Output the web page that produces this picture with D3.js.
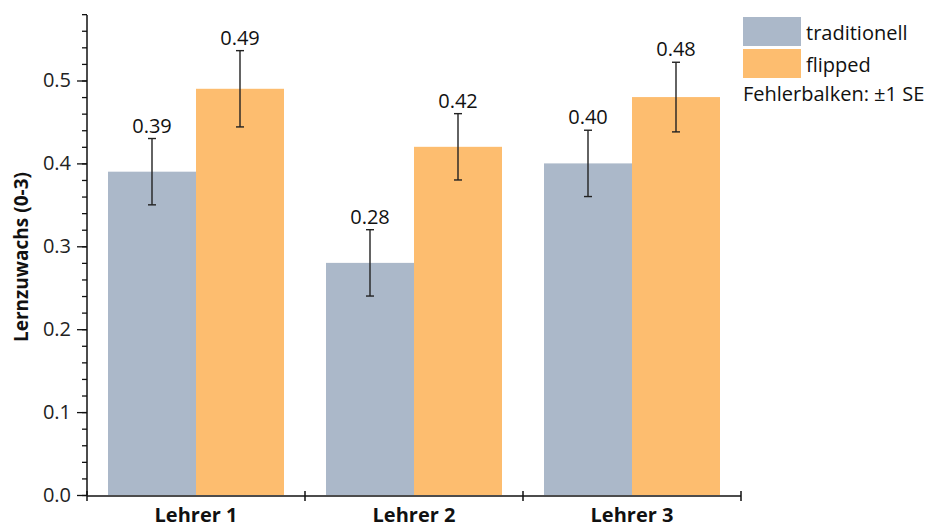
<!DOCTYPE html>
<html>
<head>
<meta charset="utf-8">
<script src="https://cdn.jsdelivr.net/npm/d3@7"></script>
<style>
  html, body { margin: 0; padding: 0; background: #fff; }
  svg { display: block; font-family: "Open Sans", "Noto Sans", sans-serif; }
</style>
</head>
<body>
<svg id="chart" width="934" height="525"></svg>
<script>
// Lernzuwachs nach Lehrkraft und Unterrichtsform
const teachers = ["Lehrer 1", "Lehrer 2", "Lehrer 3"];
const groups = ["traditionell", "flipped"];
const traditionalMeans = [0.39, 0.28, 0.40];
const flippedMeans = [0.49, 0.42, 0.48];
const traditionalSE = [0.040, 0.040, 0.040];
const flippedSE = [0.046, 0.040, 0.042];
const valueLabels = [["0.39", "0.49"], ["0.28", "0.42"], ["0.40", "0.48"]];
const yTicks = [0.0, 0.1, 0.2, 0.3, 0.4, 0.5];
const colors = { traditionell: "#abb8c9", flipped: "#fdbd6f" };

const rows = teachers.map((t, i) => ({
  teacher: t,
  bars: [
    { group: "traditionell", mean: traditionalMeans[i], se: traditionalSE[i], label: valueLabels[i][0] },
    { group: "flipped", mean: flippedMeans[i], se: flippedSE[i], label: valueLabels[i][1] }
  ]
}));

const svg = d3.select("#chart");
const plotLeft = 87, plotRight = 741, plotTop = 15, plotBottom = 495;

const x0 = d3.scaleBand().domain(teachers).range([plotLeft, plotRight]).paddingInner(0).paddingOuter(0);
const x1 = d3.scaleBand().domain(groups).range([21, x0.bandwidth() - 21]).padding(0);
const y = d3.scaleLinear().domain([0, 0.579]).range([plotBottom, plotTop]);

// bars
const g = svg.append("g");
const groupSel = g.selectAll("g.group").data(rows).join("g")
  .attr("class", "group")
  .attr("transform", d => `translate(${x0(d.teacher)},0)`);

groupSel.selectAll("rect").data(d => d.bars).join("rect")
  .attr("x", d => x1(d.group))
  .attr("width", x1.bandwidth())
  .attr("y", d => y(d.mean))
  .attr("height", d => y(0) - y(d.mean))
  .attr("fill", d => colors[d.group]);

// error bars (±1 SE)
const capHalf = 4;
const err = groupSel.selectAll("g.err").data(d => d.bars).join("g").attr("class", "err")
  .attr("transform", d => `translate(${x1(d.group) + x1.bandwidth() / 2},0)`)
  .attr("stroke", "#222").attr("stroke-width", 1.4);
err.append("line").attr("x1", 0).attr("x2", 0)
  .attr("y1", d => y(d.mean + d.se)).attr("y2", d => y(d.mean - d.se));
err.append("line").attr("x1", -capHalf).attr("x2", capHalf)
  .attr("y1", d => y(d.mean + d.se)).attr("y2", d => y(d.mean + d.se));
err.append("line").attr("x1", -capHalf).attr("x2", capHalf)
  .attr("y1", d => y(d.mean - d.se)).attr("y2", d => y(d.mean - d.se));

// value labels
groupSel.selectAll("text.val").data(d => d.bars).join("text")
  .attr("class", "val")
  .attr("x", d => x1(d.group) + x1.bandwidth() / 2)
  .attr("y", d => y(d.mean + d.se) - 6)
  .attr("text-anchor", "middle")
  .attr("font-size", 20)
  .attr("fill", "#111")
  .text(d => d.label);

// y axis with minor ticks
const yAxisG = svg.append("g").attr("transform", `translate(${plotLeft},0)`);
yAxisG.append("g").call(d3.axisLeft(y).tickValues(d3.range(0, 0.5801, 0.02)).tickSize(5).tickFormat(""));
yAxisG.append("g").call(d3.axisLeft(y).tickValues(yTicks).tickSize(10).tickPadding(6).tickFormat(d3.format(".1f")));
yAxisG.selectAll("path.domain").remove();
yAxisG.selectAll(".tick line").attr("stroke", "#111").attr("stroke-width", 1.3);
yAxisG.append("line").attr("x1", 0).attr("x2", 0).attr("y1", y(0.579)).attr("y2", y(0))
  .attr("stroke", "#111").attr("stroke-width", 1.5);
yAxisG.selectAll(".tick text").attr("font-size", 20).attr("fill", "#222")
  .attr("font-family", "'Open Sans', 'Noto Sans', sans-serif");

// x axis: baseline plus group separators
const xAxisG = svg.append("g").attr("transform", `translate(0,${plotBottom + 1})`);
xAxisG.append("line").attr("x1", plotLeft).attr("x2", plotRight).attr("y1", 0).attr("y2", 0)
  .attr("stroke", "#111").attr("stroke-width", 1.5);
const seps = teachers.map(t => x0(t)).concat([x0(teachers[teachers.length - 1]) + x0.bandwidth()]);
xAxisG.selectAll("line.sep").data(seps).join("line").attr("class", "sep")
  .attr("x1", d => d).attr("x2", d => d).attr("y1", -5).attr("y2", 5)
  .attr("stroke", "#111").attr("stroke-width", 1.5);
xAxisG.selectAll("text").data(teachers).join("text")
  .attr("x", d => x0(d) + x0.bandwidth() / 2)
  .attr("y", 26)
  .attr("text-anchor", "middle")
  .attr("font-size", 20).attr("font-weight", "bold").attr("fill", "#111")
  .text(d => d);

// y axis title
svg.append("text")
  .attr("transform", `translate(28,257) rotate(-90)`)
  .attr("text-anchor", "middle")
  .attr("font-size", 19).attr("font-weight", "bold").attr("fill", "#111")
  .text("Lernzuwachs (0-3)");

// legend
const legend = svg.append("g").attr("transform", "translate(743,17)");
groups.forEach((grp, i) => {
  legend.append("rect").attr("x", 0).attr("y", i * 32).attr("width", 58).attr("height", 29)
    .attr("fill", colors[grp]);
  legend.append("text").attr("x", 63).attr("y", i * 32 + 23)
    .attr("font-size", 20).attr("fill", "#111").text(grp);
});
legend.append("text").attr("x", 0).attr("y", 84)
  .attr("font-size", 20).attr("fill", "#111").text("Fehlerbalken: ±1 SE");
</script>
</body>
</html>
